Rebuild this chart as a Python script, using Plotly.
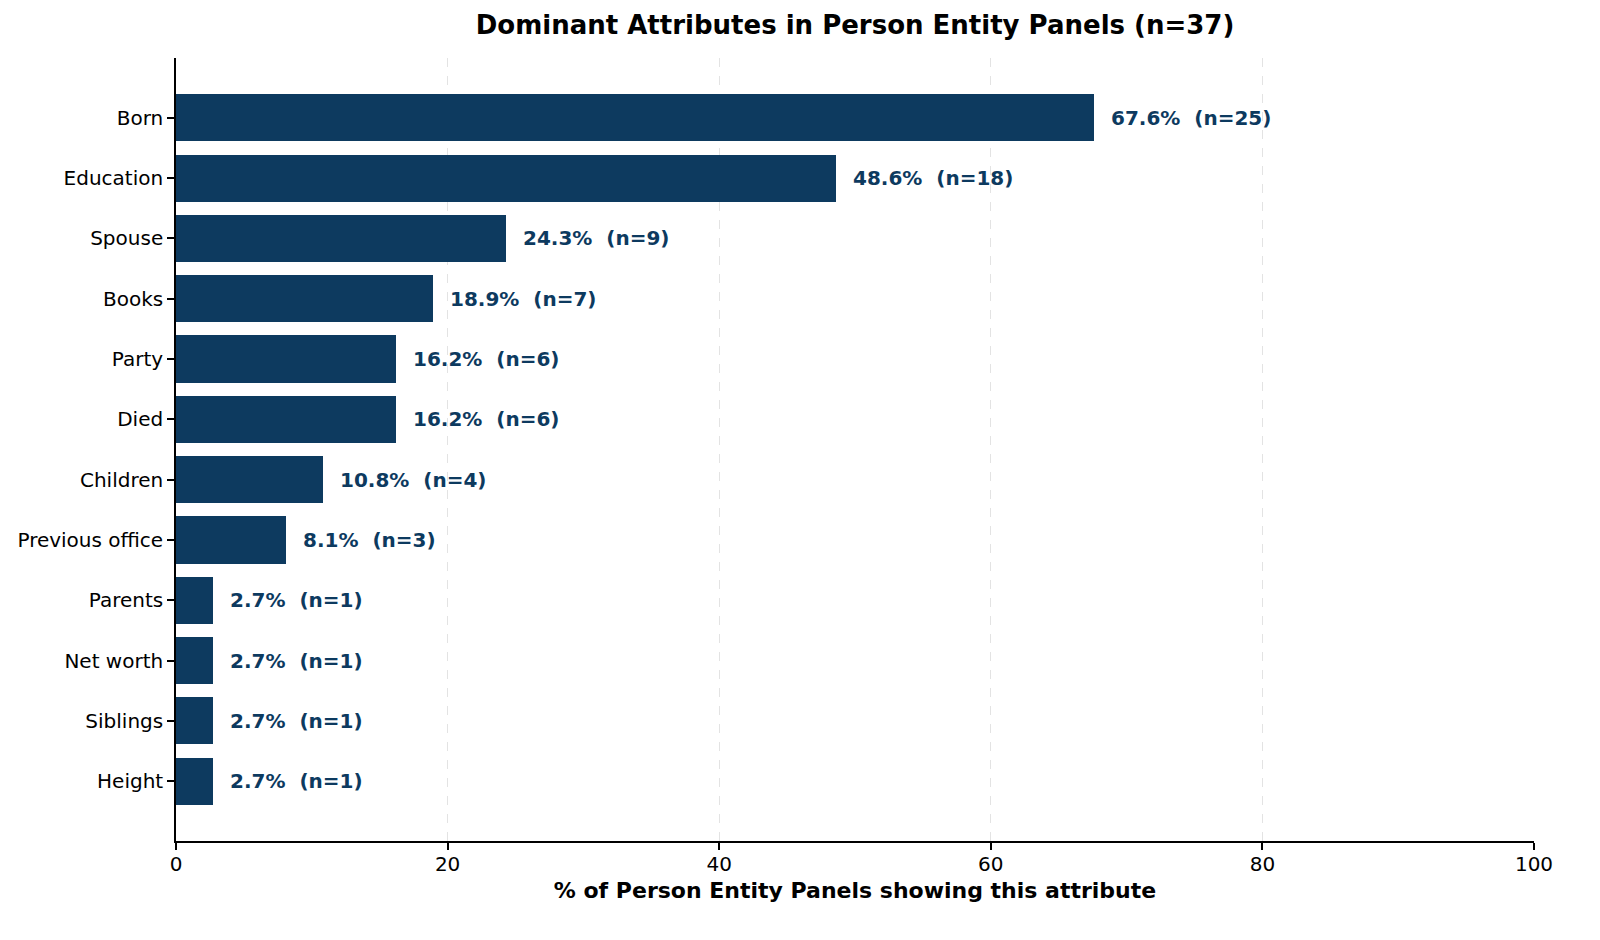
import plotly.graph_objects as go

categories = ["Born", "Education", "Spouse", "Books", "Party", "Died", "Children",
              "Previous office", "Parents", "Net worth", "Siblings", "Height"]
percentages = [67.6, 48.6, 24.3, 18.9, 16.2, 16.2, 10.8, 8.1, 2.7, 2.7, 2.7, 2.7]
counts = [25, 18, 9, 7, 6, 6, 4, 3, 1, 1, 1, 1]
x_ticks = [0, 20, 40, 60, 80, 100]

BAR = "#0d3a5f"
FONT = "DejaVu Sans"

fig = go.Figure()
fig.add_trace(go.Bar(
    x=percentages, y=categories, orientation="h",
    marker=dict(color=BAR, line=dict(width=0)),
    width=0.78, hoverinfo="skip",
))

for c, p, n in zip(categories, percentages, counts):
    fig.add_annotation(
        x=p, y=c, xref="x", yref="y", xanchor="left", yanchor="middle",
        xshift=15, showarrow=False,
        text=f"<b>{p:.1f}%\u00a0 (n={n})</b>",
        font=dict(family=FONT, size=20, color=BAR),
    )

fig.update_layout(
    width=1600, height=940,
    paper_bgcolor="white", plot_bgcolor="white",
    margin=dict(l=176, r=66, t=58, b=99),
    font=dict(family=FONT, size=20, color="black"),
    showlegend=False,
    bargap=0,
    title=dict(
        text="<b>Dominant Attributes in Person Entity Panels (n=37)</b>",
        x=0.5344, xanchor="center", y=0.973, yanchor="middle",
        font=dict(family=FONT, size=26, color="black"),
    ),
    xaxis=dict(
        range=[0, 100], tickvals=x_ticks, ticktext=[str(t) for t in x_ticks],
        showline=True, linecolor="black", linewidth=1.6,
        ticks="outside", ticklen=7, tickwidth=1.6, tickcolor="black",
        showgrid=True, gridcolor="#e3e3e3", griddash="dash", gridwidth=1,
        zeroline=False, ticklabelstandoff=-3,
        title=dict(text="<b>% of Person Entity Panels showing this attribute</b>",
                   font=dict(family=FONT, size=22), standoff=8),
        tickfont=dict(family=FONT, size=20),
    ),
    yaxis=dict(
        categoryorder="array", categoryarray=categories[::-1],
        range=[-0.99, 11.99],
        showline=True, linecolor="black", linewidth=1.6,
        ticks="outside", ticklen=7, tickwidth=1.6, tickcolor="black",
        showgrid=False, zeroline=False,
        tickfont=dict(family=FONT, size=20),
    ),
)

fig.write_html("out.html", config={"displayModeBar": False},
               post_script="document.body.style.margin='0';")
